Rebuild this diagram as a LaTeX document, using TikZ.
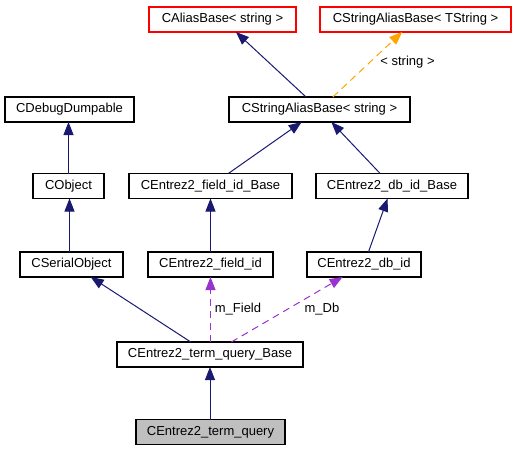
\documentclass[tikz,border=0pt]{standalone}
\usepackage{fontspec}
\setmainfont{Liberation Sans}
\usetikzlibrary{arrows.meta}
\definecolor{edgeblue}{HTML}{191970}
\definecolor{tplorange}{HTML}{FFA500}
\definecolor{usepurple}{HTML}{9A32CD}
\definecolor{boxgray}{HTML}{BFBFBF}
\tikzset{
  cls/.style={draw=black, line width=1.2pt, rectangle, inner sep=0pt, outer sep=0pt,
    minimum height=25pt, font=\fontsize{13}{15}\selectfont},
  extcls/.style={cls, draw=red},
  curcls/.style={cls, fill=boxgray},
  lbl/.style={inner sep=0pt, font=\fontsize{13}{15}\selectfont},
  inherit/.style={draw=edgeblue, line width=1pt, -{Triangle[length=13pt,width=10pt]}},
  tplinst/.style={draw=tplorange, line width=1pt, dash pattern=on 7pt off 5pt,
    -{Triangle[length=13pt,width=10pt]}},
  member/.style={draw=usepurple, line width=1pt, dash pattern=on 7pt off 5pt,
    -{Triangle[length=13pt,width=10pt]}}
}
\begin{document}
\begin{tikzpicture}[x=1pt, y=-1pt]
      \useasboundingbox (0,0) rectangle (516,451);
      \draw
        (222.5,19.5) node[extcls, minimum width=147pt] (alias){CAliasBase< string >}
        (415.5,19.5) node[extcls, minimum width=191pt] (tstring){CStringAliasBase< TString >}
        (319.5,109.5) node[cls, minimum width=181pt] (salias){CStringAliasBase< string >}
        (69.5,109.5) node[cls, minimum width=129pt] (debug){CDebugDumpable}
        (68.5,186) node[cls, minimum width=71pt] (cobject){CObject}
        (210.5,186) node[cls, minimum width=163pt] (fieldbase){CEntrez2\_field\_id\_Base}
        (392,186) node[cls, minimum width=152pt] (dbbase){CEntrez2\_db\_id\_Base}
        (71.5,264.5) node[cls, minimum width=103pt] (serial){CSerialObject}
        (210.5,264.5) node[cls, minimum width=125pt] (field){CEntrez2\_field\_id}
        (364,264.5) node[cls, minimum width=114pt] (db){CEntrez2\_db\_id}
        (210,354.5) node[cls, minimum width=186pt] (tqbase){CEntrez2\_term\_query\_Base}
        (210.5,432) node[curcls, minimum width=149pt] (tq){CEntrez2\_term\_query};
      \draw
        (407.5,62) node[lbl] (strlbl){< string >}
        (238,309) node[lbl] (fieldlbl){m\_Field}
        (322,309) node[lbl] (dblbl){m\_Db};
      \begin{scope}
        \draw[inherit] (salias) to (alias);
        \draw[tplinst] (salias) to (tstring);
        \draw[inherit] (fieldbase) to (salias);
        \draw[inherit] (dbbase) to (salias);
        \draw[inherit] (cobject.north) to (cobject.north |- debug.south);
        \draw[inherit] ([xshift=1pt]cobject.south |- serial.north) to ([xshift=1pt]cobject.south);
        \draw[inherit] (field) to (fieldbase);
        \draw[inherit] (db) to (dbbase);
        \draw[inherit] (tqbase) to (serial);
        \draw[member] (tqbase.north -| field.south) to (field.south);
        \draw[member] (tqbase) to (db);
        \draw[inherit] (tq.north -| tqbase.south) to (tqbase.south);
      \end{scope}
    \end{tikzpicture}
\end{document}
